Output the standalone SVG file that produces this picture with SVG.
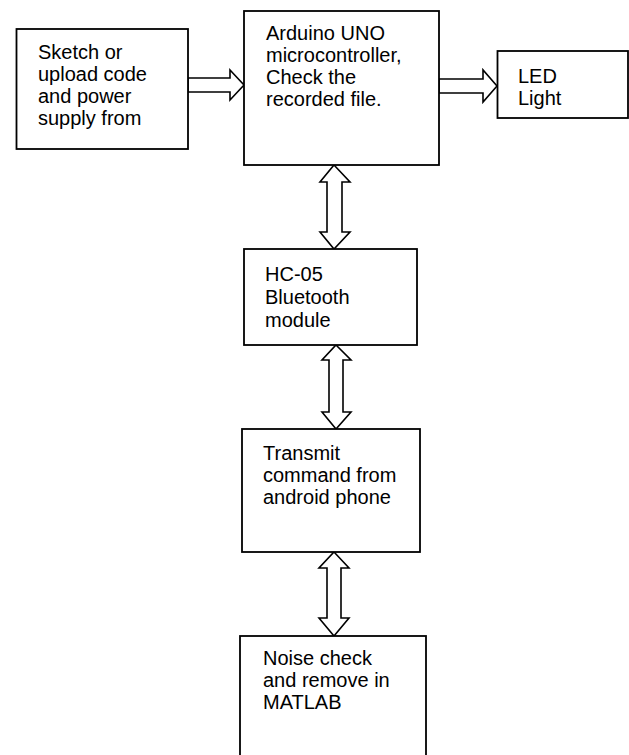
<svg xmlns="http://www.w3.org/2000/svg" width="629" height="755" viewBox="0 0 629 755">
<style>
.box{fill:#fff;stroke:#000;stroke-width:1.8}
.arr{fill:#fff;stroke:#000;stroke-width:1.6;stroke-linejoin:miter}
text{font-family:"Liberation Sans",Arial,sans-serif;font-size:20px;fill:#000}
</style>
<rect width="629" height="755" fill="#fff"/>
<g id="connectors">
<path class="arr" d="M188,78 H230 V70 L244,85 L230,100 V92 H188 Z"/>
<path class="arr" d="M439,79 H483 V70 L497,86 L483,102 V93 H439 Z"/>
<path class="arr" d="M334,165 L350,182 H342 V232 H350 L334,249 L320,232 H327 V182 H320 Z"/>
<path class="arr" d="M336,345 L351,360 H343 V412 H351 L336,429 L322,412 H329 V360 H322 Z"/>
<path class="arr" d="M334,552 L349,568 H341 V618 H349 L334,636 L319,618 H327 V568 H319 Z"/>
</g>
<g id="sketch">
<rect class="box" x="16.5" y="29" width="171.5" height="120"/>
<text x="38" y="59">Sketch or</text>
<text x="38" y="81">upload code</text>
<text x="38" y="103">and power</text>
<text x="38" y="125">supply from</text>
</g>
<g id="arduino">
<rect class="box" x="244" y="11" width="195" height="154"/>
<text x="266" y="40">Arduino UNO</text>
<text x="266" y="62">microcontroller,</text>
<text x="266" y="84">Check the</text>
<text x="266" y="106">recorded file.</text>
</g>
<g id="led">
<rect class="box" x="497.5" y="51" width="130.5" height="67"/>
<text x="518" y="83">LED</text>
<text x="518" y="105">Light</text>
</g>
<g id="hc05">
<rect class="box" x="244" y="249" width="173" height="96"/>
<text x="265" y="281">HC-05</text>
<text x="265" y="304">Bluetooth</text>
<text x="265" y="327">module</text>
</g>
<g id="transmit">
<rect class="box" x="242" y="429" width="178" height="123"/>
<text x="263" y="460">Transmit</text>
<text x="263" y="482">command from</text>
<text x="263" y="504">android phone</text>
</g>
<g id="noise">
<rect class="box" x="240" y="636" width="186" height="130"/>
<text x="263" y="665">Noise check</text>
<text x="263" y="687">and remove in</text>
<text x="263" y="709">MATLAB</text>
</g>
</svg>
